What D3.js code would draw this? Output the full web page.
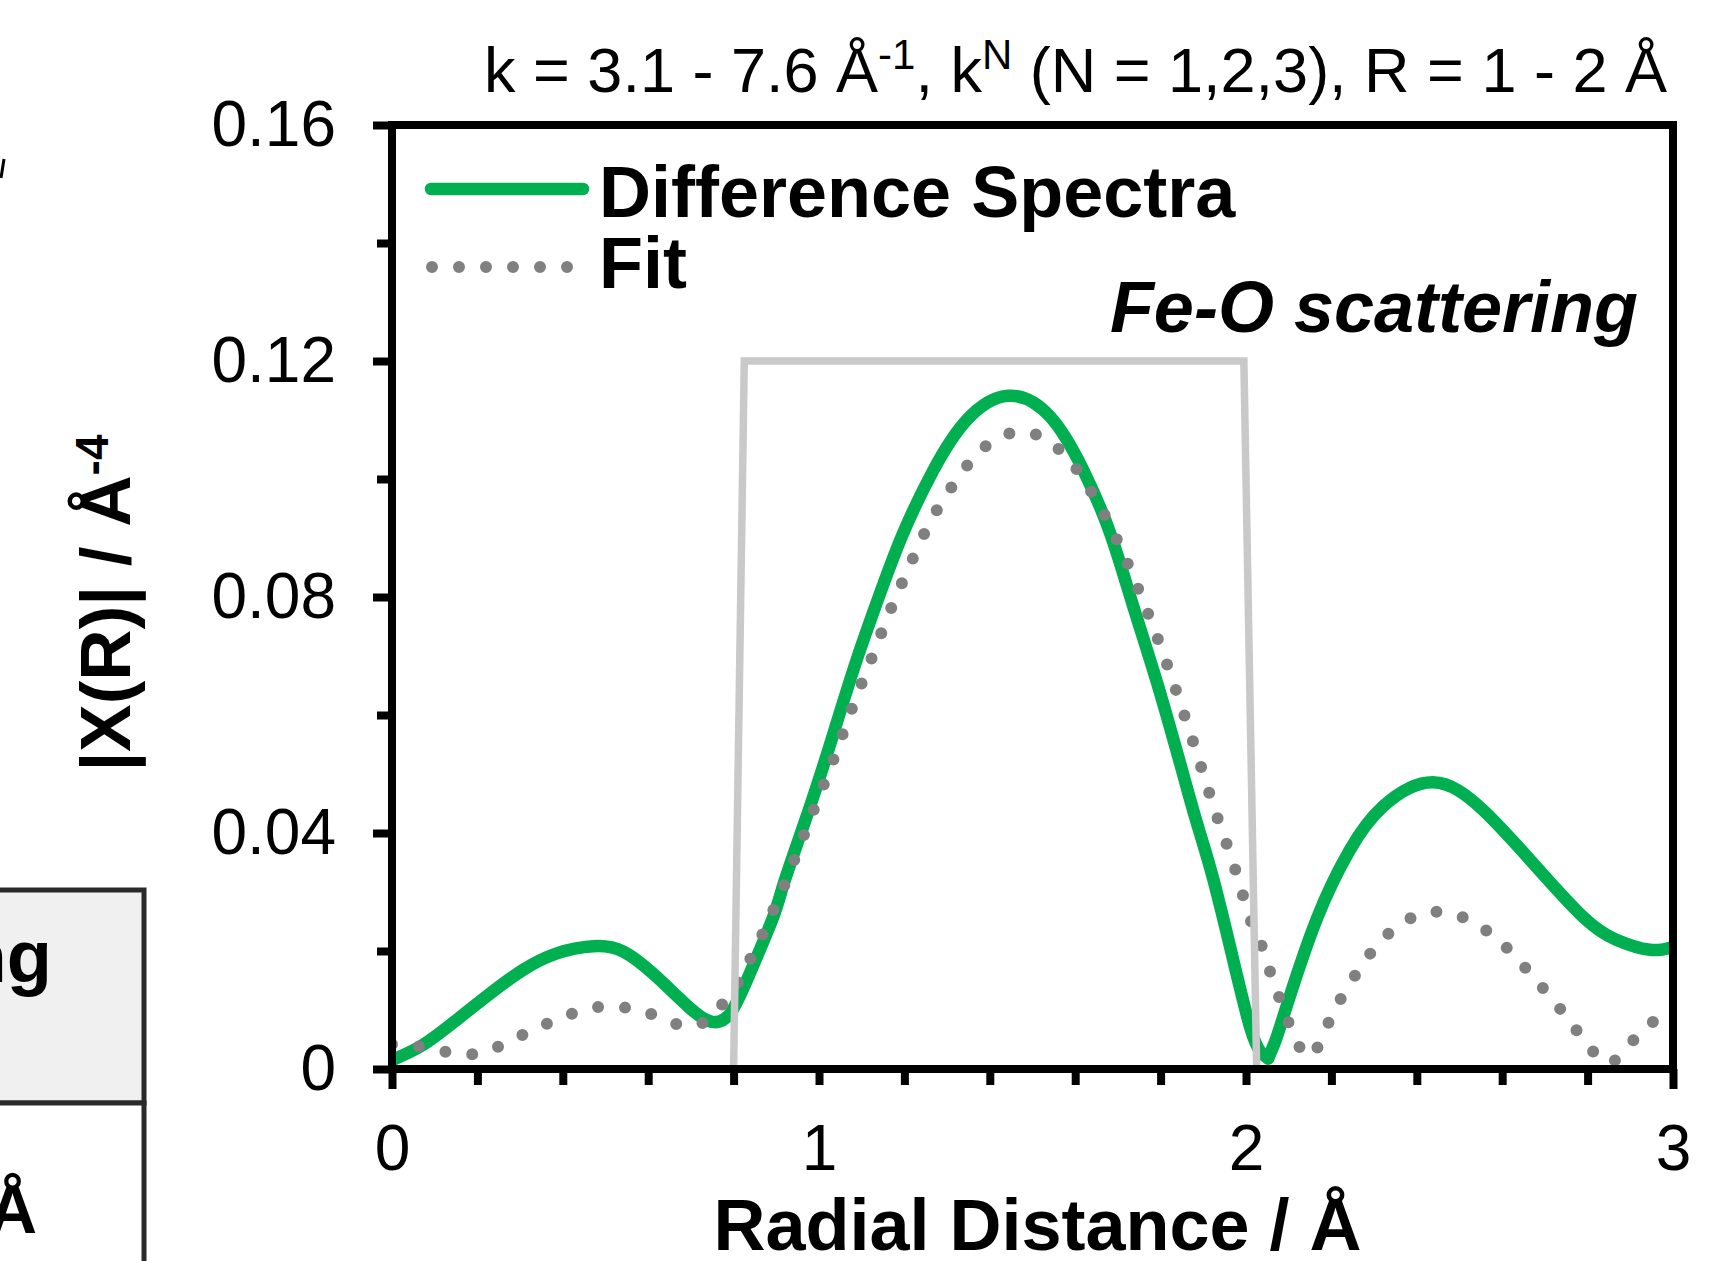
<!DOCTYPE html>
<html lang="en">
<head>
    <meta charset="UTF-8">
    <title>Fe-O scattering</title>
    <script src="https://d3js.org/d3.v7.min.js"></script>
    <style>
        body { margin: 0; background: #fff; }
        text { font-family: "Liberation Sans", Arial, sans-serif; }
    </style>
</head>
<body>
<script type="text/javascript">

    // Difference spectra (green)
    var diffR = [0.000, 0.073, 0.151, 0.230, 0.307, 0.386, 0.471, 0.542, 0.620, 0.698, 0.749, 0.792,
        0.838, 0.893, 0.920, 0.979, 1.034, 1.088, 1.143, 1.197, 1.268, 1.346, 1.443, 1.541, 1.619,
        1.682, 1.736, 1.799, 1.861, 1.892, 1.924, 1.970, 2.010, 2.035, 2.052, 2.070, 2.095, 2.165,
        2.243, 2.321, 2.438, 2.555, 2.672, 2.789, 2.867, 2.946, 3.000];
    var diffY = [0.0015, 0.0041, 0.0083, 0.0128, 0.0168, 0.0196, 0.0208, 0.0199, 0.0156, 0.0103, 0.0080, 0.0094,
        0.0162, 0.0258, 0.0320, 0.0445, 0.0569, 0.0693, 0.0806, 0.0908, 0.1015, 0.1100, 0.1141, 0.1106, 0.1015,
        0.0908, 0.0784, 0.0637, 0.0478, 0.0400, 0.0320, 0.0185, 0.0070, 0.0028, 0.0018, 0.0050, 0.0106, 0.0253,
        0.0371, 0.0445, 0.0486, 0.0439, 0.0349, 0.0258, 0.0219, 0.0202, 0.0207];
    // the green trace has a sharp dip here
    var diffKink = 2.052;

    // Fit (grey dots)
    var fitR = [0.000, 0.064, 0.128, 0.190, 0.249, 0.307, 0.364, 0.422, 0.483, 0.546, 0.608, 0.666, 0.697,
        0.727, 0.774, 0.811, 0.840, 0.868, 0.894, 0.919, 0.942, 0.988, 1.034, 1.077, 1.123, 1.169, 1.219,
        1.275, 1.346, 1.389, 1.445, 1.506, 1.559, 1.602, 1.668, 1.722, 1.770, 1.814, 1.855, 1.894, 1.932,
        1.974, 2.010, 2.036, 2.055, 2.076, 2.098, 2.124, 2.145, 2.162, 2.188, 2.215, 2.248, 2.283, 2.324,
        2.374, 2.433, 2.494, 2.552, 2.601, 2.645, 2.686, 2.727, 2.766, 2.804, 2.848, 2.893, 2.936, 2.985, 3.000];
    var fitY = [0.0042, 0.0038, 0.0029, 0.0025, 0.0038, 0.0058, 0.0077, 0.0094, 0.0105, 0.0104, 0.0093, 0.0076, 0.0073,
        0.0078, 0.0110, 0.0148, 0.0188, 0.0229, 0.0271, 0.0312, 0.0354, 0.0440, 0.0525, 0.0611, 0.0696, 0.0781, 0.0864,
        0.0946, 0.1022, 0.1055, 0.1077, 0.1076, 0.1052, 0.1018, 0.0940, 0.0858, 0.0773, 0.0688, 0.0601, 0.0514, 0.0428,
        0.0340, 0.0254, 0.0210, 0.0168, 0.0125, 0.0082, 0.0039, 0.0022, 0.0029, 0.0070, 0.0110, 0.0150, 0.0188, 0.0223,
        0.0251, 0.0266, 0.0261, 0.0240, 0.0212, 0.0179, 0.0145, 0.0110, 0.0073, 0.0038, 0.0010, 0.0037, 0.0069, 0.0100, 0.0110];

    // fitting window (light grey)
    var windowR = [0, 0.8, 0.825, 1.995, 2.025, 3];
    var windowY = [0, 0, 0.12, 0.12, 0, 0];

    var xTicks = [0, 0.2, 0.4, 0.6, 0.8, 1, 1.2, 1.4, 1.6, 1.8, 2, 2.2, 2.4, 2.6, 2.8, 3];
    var xLabelValues = [0, 1, 2, 3];
    var yTicks = [0, 0.02, 0.04, 0.06, 0.08, 0.1, 0.12, 0.14, 0.16];
    var yLabelValues = [0, 0.04, 0.08, 0.12, 0.16];
    var yLabels = ["0", "0.04", "0.08", "0.12", "0.16"];

    var w = 1723;
    var h = 1261;
    var plotLeft = 392, plotRight = 1673, plotTop = 125, plotBottom = 1069;
    var green = "#00b050";
    var fontName = "Liberation Sans, Arial, sans-serif";

    var svg = d3.select("body")
        .append("svg")
        .attr("width", w)
        .attr("height", h);

    svg.append("rect").attr("width", w).attr("height", h).attr("fill", "#fff");

    svg.append("clipPath").attr("id", "plotClip")
        .append("rect")
        .attr("x", plotLeft).attr("y", plotTop)
        .attr("width", plotRight - plotLeft)
        .attr("height", plotBottom - plotTop);

    var x = d3.scaleLinear().domain([0, 3]).range([plotLeft, plotRight]);
    var y = d3.scaleLinear().domain([0, 0.16]).range([plotBottom, plotTop]);

    var smooth = d3.line()
        .x(function (d) { return x(d[0]); })
        .y(function (d) { return y(d[1]); })
        .curve(d3.curveNatural);

    var straight = d3.line()
        .x(function (d) { return x(d[0]); })
        .y(function (d) { return y(d[1]); });

    var plot = svg.append("g").attr("clip-path", "url(#plotClip)");

    var diffPts = d3.zip(diffR, diffY);
    var diffParts = [
        diffPts.filter(function (d) { return d[0] <= diffKink; }),
        diffPts.filter(function (d) { return d[0] >= diffKink; })
    ];

    plot.selectAll("path.diff")
        .data(diffParts)
        .enter()
        .append("path")
        .attr("class", "diff")
        .attr("d", smooth)
        .attr("fill", "none")
        .attr("stroke", green)
        .attr("stroke-width", 12.5)
        .attr("stroke-linecap", "round");

    plot.append("path")
        .datum(d3.zip(fitR, fitY))
        .attr("d", smooth)
        .attr("fill", "none")
        .attr("stroke", "#808080")
        .attr("stroke-width", 12)
        .attr("stroke-linecap", "round")
        .attr("stroke-dasharray", "0 27");

    plot.append("path")
        .datum(d3.zip(windowR, windowY))
        .attr("d", straight)
        .attr("fill", "none")
        .attr("stroke", "#c9c9c9")
        .attr("stroke-width", 7.5);

    // axes
    var xAxis = d3.axisBottom(x)
        .tickValues(xTicks)
        .tickSizeInner(16)
        .tickSizeOuter(0)
        .tickPadding(40)
        .tickFormat(function (d) {
            return xLabelValues.indexOf(d) >= 0 ? String(d) : "";
        });

    var gx = svg.append("g")
        .attr("transform", "translate(0," + plotBottom + ")")
        .call(xAxis)
        .attr("font-family", fontName)
        .attr("font-size", 64);
    gx.select(".domain").remove();
    gx.selectAll(".tick line")
        .attr("stroke", "#000")
        .attr("stroke-width", 8)
        .attr("y2", function (d) { return (d === 0 || d === 3) ? 20 : 16; });
    gx.selectAll(".tick text").attr("fill", "#000");

    var yAxis = d3.axisLeft(y)
        .tickValues(yTicks)
        .tickSizeInner(15)
        .tickSizeOuter(0)
        .tickPadding(41)
        .tickFormat(function (d) {
            var i = yLabelValues.indexOf(d);
            return i >= 0 ? yLabels[i] : "";
        });

    var gy = svg.append("g")
        .attr("transform", "translate(" + plotLeft + ",0)")
        .call(yAxis)
        .attr("font-family", fontName)
        .attr("font-size", 64);
    gy.select(".domain").remove();
    gy.selectAll(".tick line")
        .attr("stroke", "#000")
        .attr("stroke-width", 8)
        .attr("x2", function (d) { return yLabelValues.indexOf(d) >= 0 ? -19 : -15; });
    gy.selectAll(".tick text").attr("fill", "#000");

    // frame
    svg.append("rect")
        .attr("x", plotLeft)
        .attr("y", plotTop)
        .attr("width", plotRight - plotLeft)
        .attr("height", plotBottom - plotTop)
        .attr("fill", "none")
        .attr("stroke", "#000")
        .attr("stroke-width", 8);

    // axis titles
    svg.append("text")
        .attr("x", (plotLeft + plotRight) / 2 + 5)
        .attr("y", 1250)
        .attr("text-anchor", "middle")
        .attr("font-size", 72)
        .attr("font-weight", "bold")
        .text("Radial Distance / Å");

    var yt = svg.append("text")
        .attr("transform", "translate(130," + ((plotTop + plotBottom) / 2 + 6) + ") rotate(-90)")
        .attr("text-anchor", "middle")
        .attr("font-size", 71)
        .attr("font-weight", "bold");
    yt.append("tspan").text("|X(R)| / Å");
    yt.append("tspan").attr("dy", -22).attr("font-size", 46).text("-4");

    // top caption
    var cap = svg.append("text")
        .attr("x", 1667)
        .attr("y", 92)
        .attr("text-anchor", "end")
        .attr("font-size", 63);
    cap.append("tspan").text("k = 3.1 - 7.6 Å");
    cap.append("tspan").attr("dy", -23).attr("font-size", 42).text("-1");
    cap.append("tspan").attr("dy", 23).text(", k");
    cap.append("tspan").attr("dy", -23).attr("font-size", 42).text("N");
    cap.append("tspan").attr("dy", 23).text(" (N = 1,2,3), R = 1 - 2 Å");

    // legend
    svg.append("line")
        .attr("x1", 431).attr("x2", 583)
        .attr("y1", 189).attr("y2", 189)
        .attr("stroke", green)
        .attr("stroke-width", 12.5)
        .attr("stroke-linecap", "round");
    svg.append("line")
        .attr("x1", 432).attr("x2", 570)
        .attr("y1", 267).attr("y2", 267)
        .attr("stroke", "#808080")
        .attr("stroke-width", 12)
        .attr("stroke-linecap", "round")
        .attr("stroke-dasharray", "0 27");
    svg.append("text")
        .attr("x", 599).attr("y", 217)
        .attr("font-size", 72).attr("font-weight", "bold")
        .text("Difference Spectra");
    svg.append("text")
        .attr("x", 599).attr("y", 288)
        .attr("font-size", 72).attr("font-weight", "bold")
        .text("Fit");

    svg.append("text")
        .attr("x", 1638).attr("y", 332)
        .attr("text-anchor", "end")
        .attr("font-size", 72)
        .attr("font-weight", "bold")
        .attr("font-style", "italic")
        .text("Fe-O scattering");

    // piece of the neighbouring table, cut by the edge of the figure
    svg.append("rect")
        .attr("x", -10).attr("y", 890)
        .attr("width", 154).attr("height", 213)
        .attr("fill", "#f0f0f0")
        .attr("stroke", "#2a2a2a")
        .attr("stroke-width", 5);
    svg.append("rect")
        .attr("x", -10).attr("y", 1103)
        .attr("width", 154).attr("height", 180)
        .attr("fill", "#fff")
        .attr("stroke", "#2a2a2a")
        .attr("stroke-width", 5);
    svg.append("text")
        .attr("x", 52).attr("y", 982)
        .attr("text-anchor", "end")
        .attr("font-size", 74).attr("font-weight", "bold")
        .text("ng");
    svg.append("text")
        .attr("x", 37).attr("y", 1233)
        .attr("text-anchor", "end")
        .attr("font-size", 68).attr("font-weight", "bold")
        .text("Å");
    svg.append("line")
        .attr("x1", 4).attr("y1", 159)
        .attr("x2", 1).attr("y2", 178)
        .attr("stroke", "#000")
        .attr("stroke-width", 3);

</script>
</body>
</html>
